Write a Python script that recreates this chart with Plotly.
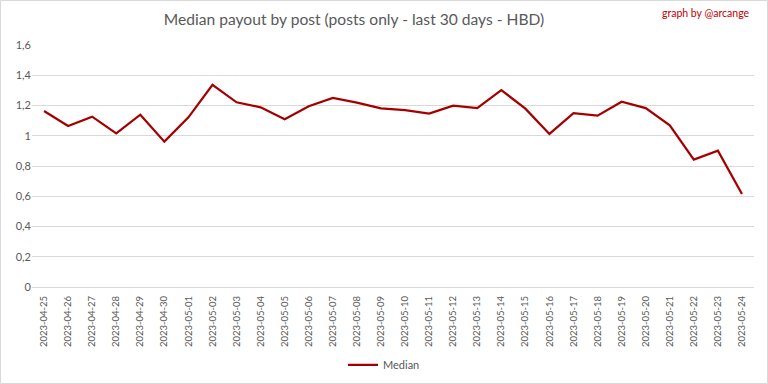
import plotly.graph_objects as go

dates = ["2023-04-25", "2023-04-26", "2023-04-27", "2023-04-28", "2023-04-29", "2023-04-30",
         "2023-05-01", "2023-05-02", "2023-05-03", "2023-05-04", "2023-05-05", "2023-05-06",
         "2023-05-07", "2023-05-08", "2023-05-09", "2023-05-10", "2023-05-11", "2023-05-12",
         "2023-05-13", "2023-05-14", "2023-05-15", "2023-05-16", "2023-05-17", "2023-05-18",
         "2023-05-19", "2023-05-20", "2023-05-21", "2023-05-22", "2023-05-23", "2023-05-24"]
median = [1.164, 1.064, 1.126, 1.016, 1.139, 0.961, 1.122, 1.336, 1.221, 1.188,
          1.109, 1.195, 1.250, 1.219, 1.181, 1.170, 1.146, 1.199, 1.183, 1.302,
          1.179, 1.012, 1.150, 1.133, 1.225, 1.183, 1.069, 0.842, 0.901, 0.615]

FONT = "Lato"
GRAY = "#595959"

fig = go.Figure()
fig.add_trace(go.Scatter(x=dates, y=median, mode="lines", name="Median",
                         line=dict(color="#A50000", width=2.25)))

fig.update_layout(
    width=768, height=384,
    margin=dict(l=32, r=14, t=45, b=97, autoexpand=False),
    paper_bgcolor="white", plot_bgcolor="white",
    separators=", ",
    font=dict(family=FONT, color=GRAY, size=11),
    title=dict(text="Median payout by post (posts only - last 30 days - HBD)",
               x=0.461, xanchor="center", y=0.95, yanchor="middle", xref="container", yref="container",
               font=dict(family=FONT, size=15.6, color=GRAY)),
    showlegend=True,
    legend=dict(orientation="h", x=0.5, xref="container", xanchor="center",
                y=0.05, yref="container", yanchor="middle",
                font=dict(family=FONT, size=11, color=GRAY)),
    xaxis=dict(type="category", range=[-0.5, len(dates) - 0.5], tickangle=-90,
               showgrid=False, showline=False, ticks="", ticklabelstandoff=6,
               automargin=False, tickfont=dict(size=9.5, color=GRAY)),
    yaxis=dict(range=[0, 1.6], dtick=0.2, tick0=0, showgrid=True, gridcolor="#D9D9D9",
               gridwidth=1, zeroline=True, zerolinecolor="#D9D9D9", zerolinewidth=1,
               showline=False, ticks="", automargin=False, tickfont=dict(size=11, color=GRAY)),
    annotations=[dict(text="graph by @arcange", x=(752 - 32) / 722, y=(287 - 13) / 242,
                      xref="paper", yref="paper", showarrow=False, xanchor="right",
                      yanchor="middle", font=dict(family=FONT, size=10.5, color="#C00000"))],
    shapes=[dict(type="rect", xref="paper", yref="paper",
                 x0=(0.5 - 32) / 722, x1=(767.5 - 32) / 722,
                 y0=(287 - 383.5) / 242, y1=(287 - 0.5) / 242,
                 line=dict(color="#D9D9D9", width=1), fillcolor="rgba(0,0,0,0)", layer="below")],
)
fig.write_html("out.html", config={"displayModeBar": False},
               post_script="document.body.style.margin='0';document.body.style.overflow='hidden';")
